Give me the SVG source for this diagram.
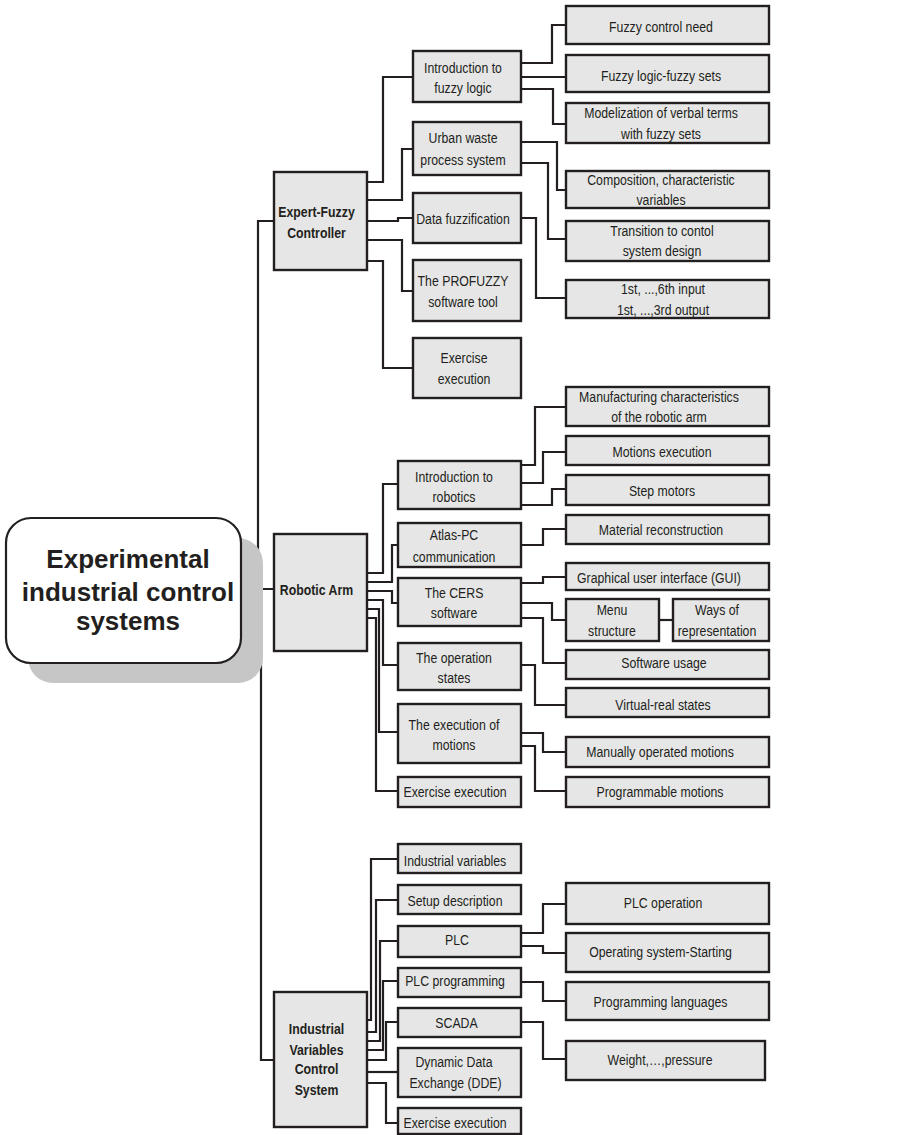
<svg xmlns="http://www.w3.org/2000/svg" width="908" height="1135" viewBox="0 0 908 1135">
<style>
.bx{fill:#e6e6e6;stroke:#231f20;stroke-width:2.4}
.t{font-family:"Liberation Sans",Arial,sans-serif;font-size:15px;fill:#231f20;text-anchor:middle}
.b{font-weight:bold}
.rt{font-family:"Liberation Sans",Arial,sans-serif;font-size:26px;font-weight:bold;fill:#231f20;text-anchor:middle}
.c{fill:none;stroke:#231f20;stroke-width:2.2}
</style>
<rect width="908" height="1135" fill="#ffffff"/>
<g id="connectors" class="c">
<path d="M241,562 H258 V221 H274"/>
<path d="M241,589 H274"/>
<path d="M241,609 H261 V1060 H274"/>
<path d="M367,182 H383 V77 H413"/>
<path d="M367,200 H402 V149 H413"/>
<path d="M367,221 H398 V218 H413"/>
<path d="M367,240 H402 V291 H413"/>
<path d="M367,261 H383 V368 H413"/>
<path d="M521,63 H552 V25 H566"/>
<path d="M521,77 H566"/>
<path d="M521,89 H553 V124 H566"/>
<path d="M521,142 H557 V190 H566"/>
<path d="M521,163 H548 V239 H566"/>
<path d="M521,218 H536 V298 H566"/>
<path d="M367,573 H383 V484 H398"/>
<path d="M367,582 H392 V545 H398"/>
<path d="M367,591 H392 V603 H398"/>
<path d="M367,600 H383 V665 H398"/>
<path d="M367,609 H379 V732 H398"/>
<path d="M367,618 H376 V791 H398"/>
<path d="M521,465 H535 V407 H566"/>
<path d="M521,483 H543 V452 H566"/>
<path d="M521,505 H552 V489 H566"/>
<path d="M521,545 H543 V529 H566"/>
<path d="M521,583 H543 V577 H566"/>
<path d="M521,603 H552 V620 H566"/>
<path d="M659,620 H673"/>
<path d="M521,618 H543 V663 H566"/>
<path d="M521,665 H535 V705 H566"/>
<path d="M521,733 H543 V752 H566"/>
<path d="M521,746 H535 V791 H566"/>
<path d="M367,1020 H371 V859 H398"/>
<path d="M367,1032 H376 V900 H398"/>
<path d="M367,1041 H380 V941 H398"/>
<path d="M367,1050 H383 V981 H398"/>
<path d="M367,1060 H386 V1022 H398"/>
<path d="M367,1072 H398"/>
<path d="M367,1083 H386 V1123 H398"/>
<path d="M521,933 H543 V904 H566"/>
<path d="M521,946 H543 V953 H566"/>
<path d="M521,982 H543 V1001 H566"/>
<path d="M521,1022 H543 V1059 H566"/>
</g>
<g id="root">
<rect x="28" y="538" width="235" height="145" rx="25" fill="#c6c6c6"/>
<rect x="6" y="518" width="235" height="145" rx="25" fill="#ffffff" stroke="#231f20" stroke-width="2.2"/>
<text class="rt" x="128" y="568">Experimental</text>
<text class="rt" x="128" y="601">industrial control</text>
<text class="rt" x="128" y="630">systems</text>
</g>
<g id="expert-fuzzy"><rect class="bx" x="274" y="172" width="93" height="98"/><text class="t b" transform="translate(316.5,217) scale(.82,1)">Expert-Fuzzy</text><text class="t b" transform="translate(316.5,238) scale(.82,1)">Controller</text></g>
<g id="robotic-arm"><rect class="bx" x="274" y="534" width="93" height="117"/><text class="t b" transform="translate(316.5,595) scale(.82,1)">Robotic Arm</text></g>
<g id="ivcs"><rect class="bx" x="274" y="992" width="93" height="135"/><text class="t b" transform="translate(316.5,1034) scale(.82,1)">Industrial</text><text class="t b" transform="translate(316.5,1055) scale(.82,1)">Variables</text><text class="t b" transform="translate(316.5,1074) scale(.82,1)">Control</text><text class="t b" transform="translate(316.5,1095) scale(.82,1)">System</text></g>
<g id="f-intro"><rect class="bx" x="413" y="51" width="108" height="51"/><text class="t" transform="translate(463,72.5) scale(.82,1)">Introduction to</text><text class="t" transform="translate(463,93) scale(.82,1)">fuzzy logic</text></g>
<g id="f-urban"><rect class="bx" x="413" y="122" width="108" height="53"/><text class="t" transform="translate(463,143) scale(.82,1)">Urban waste</text><text class="t" transform="translate(463,165) scale(.82,1)">process system</text></g>
<g id="f-data"><rect class="bx" x="413" y="193" width="108" height="50"/><text class="t" transform="translate(463,224) scale(.82,1)">Data fuzzification</text></g>
<g id="f-profuzzy"><rect class="bx" x="413" y="260" width="108" height="61"/><text class="t" transform="translate(463,286) scale(.82,1)">The PROFUZZY</text><text class="t" transform="translate(463,307) scale(.82,1)">software tool</text></g>
<g id="f-exercise"><rect class="bx" x="413" y="338" width="108" height="60"/><text class="t" transform="translate(464,363) scale(.82,1)">Exercise</text><text class="t" transform="translate(464,384) scale(.82,1)">execution</text></g>
<g id="f-need"><rect class="bx" x="566" y="6" width="203" height="38"/><text class="t" transform="translate(661,32) scale(.82,1)">Fuzzy control need</text></g>
<g id="f-sets"><rect class="bx" x="566" y="55" width="203" height="37"/><text class="t" transform="translate(661,80.5) scale(.82,1)">Fuzzy logic-fuzzy sets</text></g>
<g id="f-model"><rect class="bx" x="566" y="103" width="203" height="40"/><text class="t" transform="translate(661,118) scale(.82,1)">Modelization of verbal terms</text><text class="t" transform="translate(661,139) scale(.82,1)">with fuzzy sets</text></g>
<g id="f-comp"><rect class="bx" x="566" y="171" width="203" height="37"/><text class="t" transform="translate(661,185) scale(.82,1)">Composition, characteristic</text><text class="t" transform="translate(661,205) scale(.82,1)">variables</text></g>
<g id="f-trans"><rect class="bx" x="566" y="221" width="203" height="40"/><text class="t" transform="translate(662,236) scale(.82,1)">Transition to contol</text><text class="t" transform="translate(662,256) scale(.82,1)">system design</text></g>
<g id="f-io"><rect class="bx" x="566" y="280" width="203" height="38"/><text class="t" transform="translate(663,294) scale(.82,1)">1st, ...,6th input</text><text class="t" transform="translate(663,315) scale(.82,1)">1st, ...,3rd output</text></g>
<g id="r-intro"><rect class="bx" x="398" y="461" width="123" height="48"/><text class="t" transform="translate(454,481.5) scale(.82,1)">Introduction to</text><text class="t" transform="translate(454,501.5) scale(.82,1)">robotics</text></g>
<g id="r-atlas"><rect class="bx" x="398" y="523" width="123" height="44"/><text class="t" transform="translate(454,540) scale(.82,1)">Atlas-PC</text><text class="t" transform="translate(454,561.5) scale(.82,1)">communication</text></g>
<g id="r-cers"><rect class="bx" x="398" y="578" width="123" height="48"/><text class="t" transform="translate(454,598) scale(.82,1)">The CERS</text><text class="t" transform="translate(454,618) scale(.82,1)">software</text></g>
<g id="r-states"><rect class="bx" x="398" y="643" width="123" height="47"/><text class="t" transform="translate(454,662.5) scale(.82,1)">The operation</text><text class="t" transform="translate(454,683) scale(.82,1)">states</text></g>
<g id="r-exec"><rect class="bx" x="398" y="704" width="123" height="59"/><text class="t" transform="translate(454,730) scale(.82,1)">The execution of</text><text class="t" transform="translate(454,750) scale(.82,1)">motions</text></g>
<g id="r-exercise"><rect class="bx" x="398" y="777" width="123" height="30"/><text class="t" transform="translate(455,796.5) scale(.82,1)">Exercise execution</text></g>
<g id="r-manuf"><rect class="bx" x="566" y="387" width="203" height="39"/><text class="t" transform="translate(659,402) scale(.82,1)">Manufacturing characteristics</text><text class="t" transform="translate(659,422) scale(.82,1)">of the robotic arm</text></g>
<g id="r-motions"><rect class="bx" x="566" y="436" width="203" height="29"/><text class="t" transform="translate(662,456.5) scale(.82,1)">Motions execution</text></g>
<g id="r-step"><rect class="bx" x="566" y="475" width="203" height="30"/><text class="t" transform="translate(662,496) scale(.82,1)">Step motors</text></g>
<g id="r-material"><rect class="bx" x="566" y="515" width="203" height="29"/><text class="t" transform="translate(661,535) scale(.82,1)">Material reconstruction</text></g>
<g id="r-gui"><rect class="bx" x="566" y="563" width="203" height="27"/><text class="t" transform="translate(659,583) scale(.82,1)">Graphical user interface (GUI)</text></g>
<g id="r-menu"><rect class="bx" x="566" y="599" width="93" height="42"/><text class="t" transform="translate(612,615) scale(.82,1)">Menu</text><text class="t" transform="translate(612,636) scale(.82,1)">structure</text></g>
<g id="r-ways"><rect class="bx" x="673" y="599" width="96" height="42"/><text class="t" transform="translate(717,615) scale(.82,1)">Ways of</text><text class="t" transform="translate(717,636) scale(.82,1)">representation</text></g>
<g id="r-usage"><rect class="bx" x="566" y="650" width="203" height="29"/><text class="t" transform="translate(664,668) scale(.82,1)">Software usage</text></g>
<g id="r-virtual"><rect class="bx" x="566" y="688" width="203" height="29"/><text class="t" transform="translate(663,710) scale(.82,1)">Virtual-real states</text></g>
<g id="r-manual"><rect class="bx" x="566" y="737" width="203" height="30"/><text class="t" transform="translate(660,757) scale(.82,1)">Manually operated motions</text></g>
<g id="r-prog"><rect class="bx" x="566" y="777" width="203" height="30"/><text class="t" transform="translate(660,796.5) scale(.82,1)">Programmable motions</text></g>
<g id="i-vars"><rect class="bx" x="398" y="844" width="123" height="29"/><text class="t" transform="translate(455,866) scale(.82,1)">Industrial variables</text></g>
<g id="i-setup"><rect class="bx" x="398" y="885" width="123" height="29"/><text class="t" transform="translate(455,905.5) scale(.82,1)">Setup description</text></g>
<g id="i-plc"><rect class="bx" x="398" y="926" width="123" height="31"/><text class="t" transform="translate(457,945) scale(.82,1)">PLC</text></g>
<g id="i-plcprog"><rect class="bx" x="398" y="968" width="123" height="29"/><text class="t" transform="translate(455,985.5) scale(.82,1)">PLC programming</text></g>
<g id="i-scada"><rect class="bx" x="398" y="1008" width="123" height="29"/><text class="t" transform="translate(456.5,1028) scale(.82,1)">SCADA</text></g>
<g id="i-dde"><rect class="bx" x="398" y="1048" width="123" height="49"/><text class="t" transform="translate(454,1066.5) scale(.82,1)">Dynamic Data</text><text class="t" transform="translate(455.5,1088) scale(.82,1)">Exchange (DDE)</text></g>
<g id="i-exercise"><rect class="bx" x="398" y="1108" width="123" height="26"/><text class="t" transform="translate(455,1128) scale(.82,1)">Exercise execution</text></g>
<g id="i-plcop"><rect class="bx" x="566" y="883" width="203" height="41"/><text class="t" transform="translate(663,908) scale(.82,1)">PLC operation</text></g>
<g id="i-os"><rect class="bx" x="566" y="933" width="203" height="39"/><text class="t" transform="translate(660.5,957) scale(.82,1)">Operating system-Starting</text></g>
<g id="i-lang"><rect class="bx" x="566" y="982" width="203" height="38"/><text class="t" transform="translate(660.5,1007) scale(.82,1)">Programming languages</text></g>
<g id="i-weight"><rect class="bx" x="566" y="1041" width="199" height="39"/><text class="t" transform="translate(660,1065) scale(.82,1)">Weight,…,pressure</text></g>
</svg>
